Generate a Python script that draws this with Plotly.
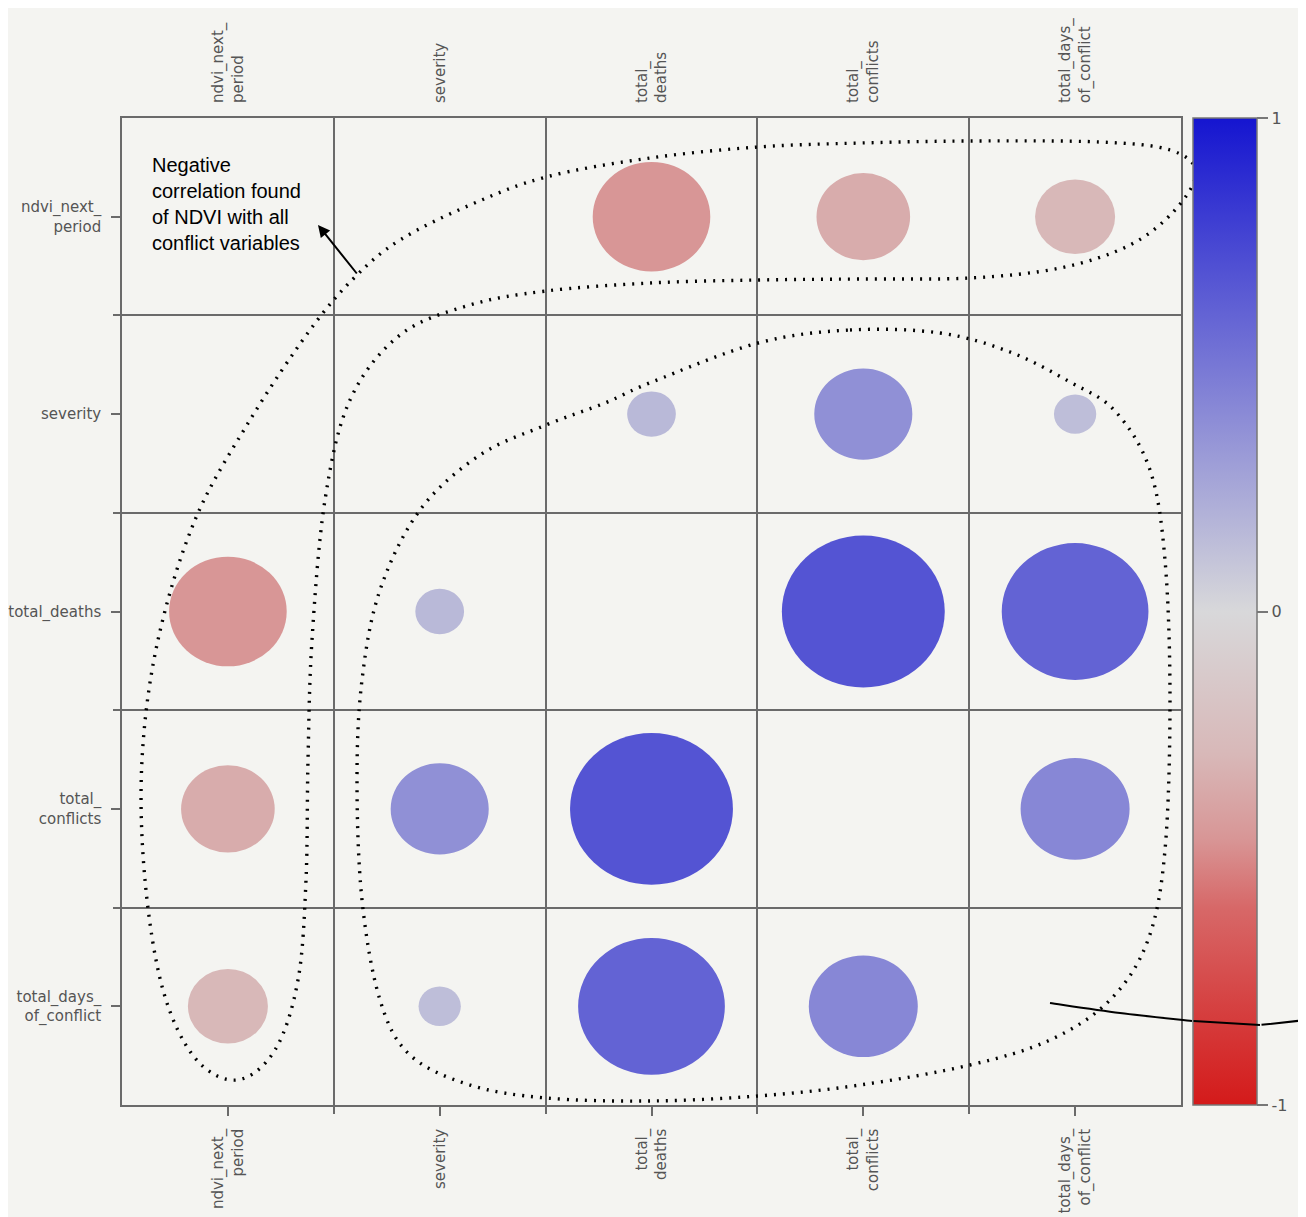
import plotly.graph_objects as go
from plotly.colors import sample_colorscale

# ---------------- data ----------------
variables = ["ndvi_next_period", "severity", "total_deaths", "total_conflicts", "total_days_of_conflict"]
tick_labels = ["ndvi_next_<br>period", "severity", "total_<br>deaths", "total_<br>conflicts", "total_days_<br>of_conflict"]
row_labels = ["ndvi_next_<br>period", "severity", "total_deaths", "total_<br>conflicts", "total_days_<br>of_conflict"]

corr_ndvi = [1.00, 0.00, -0.46, -0.35, -0.29]
corr_severity = [0.00, 1.00, 0.16, 0.37, 0.135]
corr_total_deaths = [-0.46, 0.16, 1.00, 0.68, 0.60]
corr_total_conflicts = [-0.35, 0.37, 0.68, 1.00, 0.42]
corr_total_days = [-0.29, 0.135, 0.60, 0.42, 1.00]
corr = [corr_ndvi, corr_severity, corr_total_deaths, corr_total_conflicts, corr_total_days]

colorbar_ticks = [-1, 0, 1]
annotation_text = "Negative<br>correlation found<br>of NDVI with all<br>conflict variables"

# ---------------- style ----------------
colorscale = [
    [0.00, "rgb(212,26,26)"],
    [0.20, "rgb(215,104,104)"],
    [0.27, "rgb(216,150,150)"],
    [0.355, "rgb(216,184,184)"],
    [0.50, "rgb(216,216,218)"],
    [0.75, "rgb(119,119,213)"],
    [1.00, "rgb(21,21,208)"],
]
BG = "#f4f4f1"
GRID = "#6a6a6a"
LBL = dict(family="DejaVu Sans, sans-serif", size=15, color="#555555")

W, H = 1306, 1217
OFF = 8  # page body margin of the viewer
L, R, T, B = 122, 1181, 118, 1105          # plot area in reference pixels
PW, PH = R - L, B - T

def to_paper(px, py):
    return ((px - L) / PW, (B - py) / PH)

def smooth_path(pts, closed=True):
    n = len(pts)
    if closed:
        get = lambda i: pts[i % n]
        segs = range(n)
    else:
        get = lambda i: pts[min(max(i, 0), n - 1)]
        segs = range(n - 1)
    x0, y0 = to_paper(*pts[0])
    d = f"M{x0:.5f},{y0:.5f}"
    for i in segs:
        p0, p1, p2, p3 = get(i - 1), get(i), get(i + 1), get(i + 2)
        c1 = (p1[0] + (p2[0] - p0[0]) / 6, p1[1] + (p2[1] - p0[1]) / 6)
        c2 = (p2[0] - (p3[0] - p1[0]) / 6, p2[1] - (p3[1] - p1[1]) / 6)
        a = to_paper(*c1); b = to_paper(*c2); e = to_paper(*p2)
        d += f" C{a[0]:.5f},{a[1]:.5f} {b[0]:.5f},{b[1]:.5f} {e[0]:.5f},{e[1]:.5f}"
    if closed:
        d += " Z"
    return d

n = len(variables)
xs, ys, vals = [], [], []
shapes = []
D = 1.061   # diameter (cell units) at |r| = 1
P = 0.834
for i in range(n):
    for j in range(n):
        r = corr[i][j]
        xs.append(j); ys.append(i); vals.append(r)
        if i == j or abs(r) < 0.01:
            continue
        rad = 0.5 * D * abs(r) ** P
        col = sample_colorscale(colorscale, [(r + 1) / 2])[0]
        shapes.append(dict(type="circle", xref="x", yref="y",
                           x0=j - rad, x1=j + rad, y0=i - rad, y1=i + rad,
                           fillcolor=col, line=dict(width=0), layer="above"))

# hand-drawn dotted loops (decoration, pixel guides)
loop_L = [(1196, 172), (1170, 150), (1100, 142), (970, 141), (860, 143), (758, 147), (650, 158),
          (546, 177), (470, 205), (400, 240), (355, 277), (310, 330), (250, 420), (195, 520),
          (158, 640), (142, 760), (145, 880), (163, 990), (195, 1058), (237, 1080), (275, 1050),
          (298, 980), (306, 880), (308, 760), (312, 640), (325, 500), (350, 400), (400, 335),
          (470, 305), (546, 291), (650, 283), (758, 280), (860, 279), (970, 278), (1060, 268),
          (1130, 245), (1175, 210)]
loop_big = [(850, 330), (940, 333), (1010, 352), (1070, 382), (1115, 411), (1150, 470), (1165, 560),
            (1170, 700), (1165, 850), (1148, 940), (1110, 1000), (1050, 1040), (970, 1065),
            (860, 1085), (758, 1096), (650, 1101), (546, 1098), (470, 1085), (410, 1055),
            (380, 1000), (362, 900), (357, 780), (362, 680), (380, 590), (420, 510), (480, 455),
            (546, 425), (605, 403), (652, 382), (758, 343)]
solid_line = [(1050, 1003), (1120, 1013), (1192, 1021)]

dot = dict(color="black", width=3.4, dash="2px,7px")
shapes.append(dict(type="path", xref="paper", yref="paper", path=smooth_path(loop_L),
                   line=dot, layer="above"))
shapes.append(dict(type="path", xref="paper", yref="paper", path=smooth_path(loop_big),
                   line=dot, layer="above"))
shapes.append(dict(type="path", xref="paper", yref="paper", path=smooth_path(solid_line, closed=False),
                   line=dict(color="black", width=2), layer="above"))

fig = go.Figure()
fig.add_trace(go.Scatter(
    x=xs, y=ys, mode="markers", hoverinfo="skip", showlegend=False,
    marker=dict(color=vals, colorscale=colorscale, cmin=-1, cmax=1, size=1, opacity=0,
                showscale=True,
                colorbar=dict(x=(1193 - L) / PW, xanchor="left", xpad=0, xref="paper",
                              y=1, yanchor="top", len=1, lenmode="fraction", ypad=0,
                              thickness=64, thicknessmode="pixels",
                              outlinewidth=1.5, outlinecolor="#777777",
                              tickvals=colorbar_ticks, ticktext=[str(t) for t in colorbar_ticks],
                              ticks="outside", ticklen=11, tickwidth=1.5, tickcolor="#777777",
                              tickfont=dict(family="DejaVu Sans, sans-serif", size=16, color="#555555"))),
))
fig.add_trace(go.Scatter(x=[0, n - 1], y=[0, 0], xaxis="x2", mode="markers",
                         marker=dict(opacity=0, size=1), hoverinfo="skip", showlegend=False))

axis_common = dict(showgrid=False, zeroline=False, showline=True, mirror=True, automargin=False,
                   linecolor=GRID, linewidth=1.5, ticks="outside", ticklen=9, tickwidth=1.5,
                   tickcolor=GRID, tickfont=LBL, tickmode="array", tickvals=list(range(n)),
                   minor=dict(tickmode="array", tickvals=[k + 0.5 for k in range(n - 1)],
                              showgrid=True, gridcolor=GRID, gridwidth=1.5,
                              ticks="outside", ticklen=7, tickcolor=GRID, tickwidth=1.5))

fig.update_layout(
    width=W, height=H,
    margin=dict(l=L - OFF, r=W - R + OFF, t=T - OFF, b=H - B + OFF, pad=0, autoexpand=False),
    paper_bgcolor=BG, plot_bgcolor=BG,
    xaxis=dict(range=[-0.5, n - 0.5], ticktext=tick_labels, tickangle=-90,
               ticklabelstandoff=7, **axis_common),
    xaxis2=dict(range=[-0.5, n - 0.5], overlaying="x", side="top", tickmode="array",
                tickvals=list(range(n)), ticktext=tick_labels, tickangle=-90, ticks="",
                showgrid=False, zeroline=False, showline=False, tickfont=LBL, automargin=False,
                ticklabelstandoff=14),
    yaxis=dict(range=[n - 0.5, -0.5], ticktext=row_labels, ticklabelstandoff=7, **axis_common),
    shapes=shapes,
    showlegend=False,
)

tx, ty = to_paper(150, 152)
fig.add_annotation(x=tx, y=ty, xref="paper", yref="paper", xanchor="left", yanchor="top",
                   text=annotation_text, showarrow=False, align="left",
                   font=dict(family="Liberation Sans, Arial, sans-serif", size=20, color="black"))
hx, hy = to_paper(318, 225)
fig.add_annotation(x=hx, y=hy, xref="paper", yref="paper", text="", showarrow=True,
                   ax=40, ay=50, arrowhead=2, arrowsize=1.2, arrowwidth=2, arrowcolor="black")

# part of the solid connector that crosses the colour bar (drawn above it)
for (x1, y1), (x2, y2) in [((1192, 1021), (1260, 1025)), ((1260, 1025), (1306, 1020))]:
    px2, py2 = to_paper(x2, y2)
    fig.add_annotation(x=px2, y=py2, xref="paper", yref="paper", text="", showarrow=True,
                       ax=x1 - x2, ay=y1 - y2, arrowhead=0, arrowwidth=2, arrowcolor="black",
                       standoff=0, startstandoff=0)

fig.write_html("out.html")
